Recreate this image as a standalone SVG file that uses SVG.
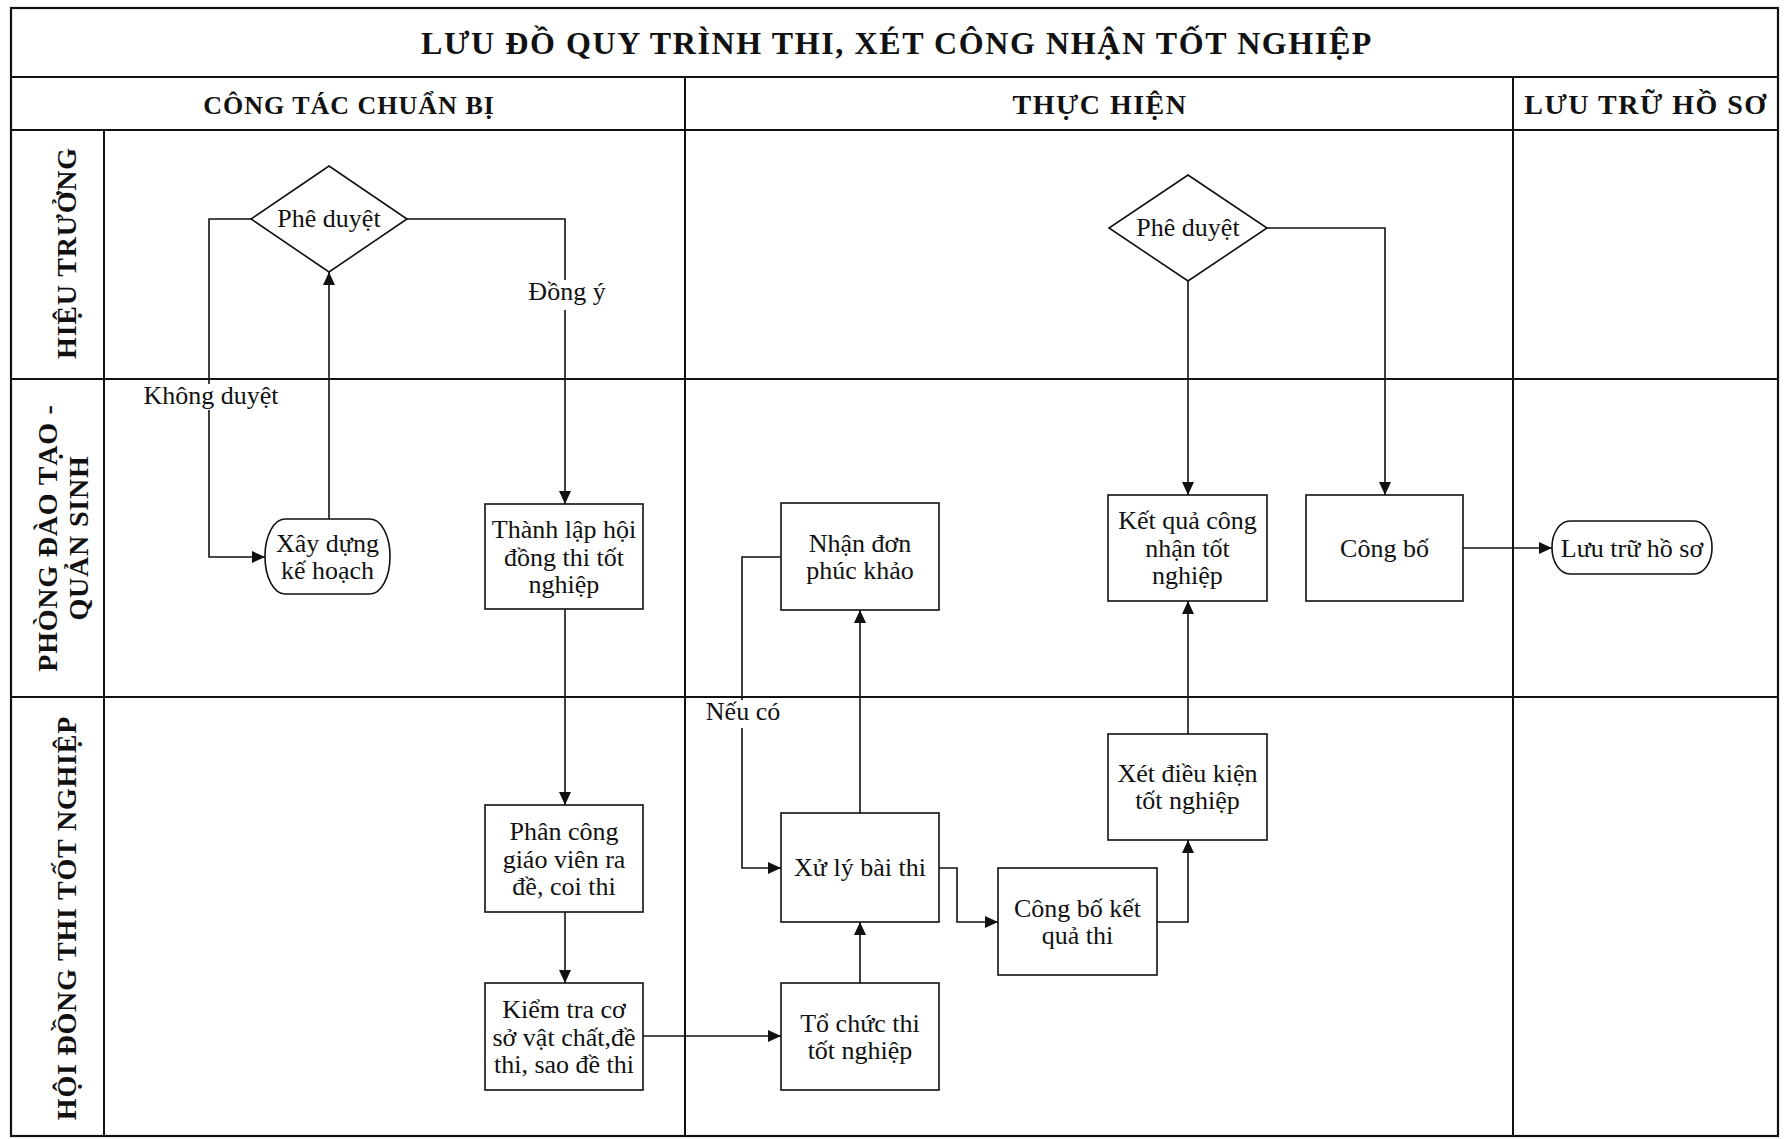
<svg xmlns="http://www.w3.org/2000/svg" width="1784" height="1139" viewBox="0 0 1784 1139">
<style>
.frame{fill:none;stroke:#111;stroke-width:2.2}
.grid{stroke:#111;stroke-width:2;fill:none}
.node{fill:#fff;stroke:#111;stroke-width:1.6}
.conn{fill:none;stroke:#111;stroke-width:1.6}
.t{font-family:"Liberation Serif","Times New Roman",serif;font-size:26px;fill:#111;text-anchor:middle}
.title{font-family:"Liberation Serif","Times New Roman",serif;font-size:32px;font-weight:bold;fill:#111;text-anchor:middle;letter-spacing:1.6px}
.hdr{font-family:"Liberation Serif","Times New Roman",serif;font-size:28px;font-weight:bold;fill:#111;text-anchor:middle;letter-spacing:1.5px}
.hdr-s{font-size:26px;letter-spacing:1px}
.lane{font-family:"Liberation Serif","Times New Roman",serif;font-size:28px;font-weight:bold;fill:#111;text-anchor:middle;letter-spacing:0.8px}
.lblbg{fill:#fff}
</style>
<defs>
<marker id="arr" markerUnits="userSpaceOnUse" markerWidth="14" markerHeight="12" refX="13" refY="6" orient="auto">
<path d="M0,0 L13,6 L0,12 z" fill="#111"/>
</marker>
</defs>
<rect width="1784" height="1139" fill="#fff"/>
<g id="frame">
<rect class="frame" x="11" y="8" width="1767" height="1128"/>
<line class="grid" x1="11" y1="77" x2="1778" y2="77"/>
<line class="grid" x1="11" y1="130" x2="1778" y2="130"/>
<line class="grid" x1="11" y1="379" x2="1778" y2="379"/>
<line class="grid" x1="11" y1="697" x2="1778" y2="697"/>
<line class="grid" x1="104" y1="130" x2="104" y2="1136"/>
<line class="grid" x1="685" y1="77" x2="685" y2="1136"/>
<line class="grid" x1="1513" y1="77" x2="1513" y2="1136"/>
<text class="title" x="897" y="54">LƯU ĐỒ QUY TRÌNH THI, XÉT CÔNG NHẬN TỐT NGHIỆP</text>
<text class="hdr hdr-s" x="349" y="114">CÔNG TÁC CHUẨN BỊ</text>
<text class="hdr" x="1100" y="114">THỰC HIỆN</text>
<text class="hdr" x="1646" y="114">LƯU TRỮ HỒ SƠ</text>
<text class="lane" transform="translate(76,253) rotate(-90)">HIỆU TRƯỞNG</text>
<text class="lane" transform="translate(57,538) rotate(-90)">PHÒNG ĐÀO TẠO -</text>
<text class="lane" transform="translate(88,538) rotate(-90)">QUẢN SINH</text>
<text class="lane" transform="translate(76,918) rotate(-90)">HỘI ĐỒNG THI TỐT NGHIỆP</text>
</g>
<g id="connectors">
<path class="conn" d="M329,519 L329,272" marker-end="url(#arr)"/>
<path class="conn" d="M251,219 L209,219 L209,557 L265,557" marker-end="url(#arr)"/>
<path class="conn" d="M407,219 L565,219 L565,504" marker-end="url(#arr)"/>
<path class="conn" d="M565,609 L565,805" marker-end="url(#arr)"/>
<path class="conn" d="M565,912 L565,983" marker-end="url(#arr)"/>
<path class="conn" d="M643,1036 L781,1036" marker-end="url(#arr)"/>
<path class="conn" d="M860,983 L860,922" marker-end="url(#arr)"/>
<path class="conn" d="M860,813 L860,610" marker-end="url(#arr)"/>
<path class="conn" d="M781,557 L742,557 L742,868 L781,868" marker-end="url(#arr)"/>
<path class="conn" d="M939,868 L957,868 L957,922 L998,922" marker-end="url(#arr)"/>
<path class="conn" d="M1157,922 L1188,922 L1188,840" marker-end="url(#arr)"/>
<path class="conn" d="M1188,734 L1188,601" marker-end="url(#arr)"/>
<path class="conn" d="M1188,281 L1188,495" marker-end="url(#arr)"/>
<path class="conn" d="M1267,228 L1385,228 L1385,495" marker-end="url(#arr)"/>
<path class="conn" d="M1463,548 L1552,548" marker-end="url(#arr)"/>
<rect class="lblbg" x="141" y="384" width="140" height="26"/>
<text class="t" x="211" y="404">Không duyệt</text>
<rect class="lblbg" x="529" y="280" width="74" height="30"/>
<text class="t" x="567" y="300">Đồng ý</text>
<rect class="lblbg" x="705" y="700" width="76" height="28"/>
<text class="t" x="743" y="720">Nếu có</text>
</g>
<g id="n-pheduyet1">
<polygon class="node" points="329,166 407,219 329,272 251,219"/>
<text class="t" x="329" y="227">Phê duyệt</text>
</g>
<g id="n-xaydung">
<rect class="node" x="265" y="519" width="125" height="75" rx="20" ry="37"/>
<text class="t" x="327.5" y="552">Xây dựng</text>
<text class="t" x="327.5" y="579">kế hoạch</text>
</g>
<g id="n-thanhlap">
<rect class="node" x="485" y="504" width="158" height="105"/>
<text class="t" x="564" y="538">Thành lập hội</text>
<text class="t" x="564" y="565.5">đồng thi tốt</text>
<text class="t" x="564" y="593">nghiệp</text>
</g>
<g id="n-phancong">
<rect class="node" x="485" y="805" width="158" height="107"/>
<text class="t" x="564" y="840">Phân công</text>
<text class="t" x="564" y="867.5">giáo viên ra</text>
<text class="t" x="564" y="895">đề, coi thi</text>
</g>
<g id="n-kiemtra">
<rect class="node" x="485" y="983" width="158" height="107"/>
<text class="t" x="564" y="1018">Kiểm tra cơ</text>
<text class="t" x="564" y="1045.5">sở vật chất,đề</text>
<text class="t" x="564" y="1073">thi, sao đề thi</text>
</g>
<g id="n-nhandon">
<rect class="node" x="781" y="503" width="158" height="107"/>
<text class="t" x="860" y="552">Nhận đơn</text>
<text class="t" x="860" y="579">phúc khảo</text>
</g>
<g id="n-xuly">
<rect class="node" x="781" y="813" width="158" height="109"/>
<text class="t" x="860" y="876">Xử lý bài thi</text>
</g>
<g id="n-tochuc">
<rect class="node" x="781" y="983" width="158" height="107"/>
<text class="t" x="860" y="1032">Tổ chức thi</text>
<text class="t" x="860" y="1059">tốt nghiệp</text>
</g>
<g id="n-congbokq">
<rect class="node" x="998" y="868" width="159" height="107"/>
<text class="t" x="1077.5" y="917">Công bố kết</text>
<text class="t" x="1077.5" y="944">quả thi</text>
</g>
<g id="n-xet">
<rect class="node" x="1108" y="734" width="159" height="106"/>
<text class="t" x="1187.5" y="782">Xét điều kiện</text>
<text class="t" x="1187.5" y="809">tốt nghiệp</text>
</g>
<g id="n-ketqua">
<rect class="node" x="1108" y="495" width="159" height="106"/>
<text class="t" x="1187.5" y="529">Kết quả công</text>
<text class="t" x="1187.5" y="556.5">nhận tốt</text>
<text class="t" x="1187.5" y="584">nghiệp</text>
</g>
<g id="n-pheduyet2">
<polygon class="node" points="1188,175 1267,228 1188,281 1109,228"/>
<text class="t" x="1188" y="236">Phê duyệt</text>
</g>
<g id="n-congbo">
<rect class="node" x="1306" y="495" width="157" height="106"/>
<text class="t" x="1384.5" y="557">Công bố</text>
</g>
<g id="n-luutru">
<rect class="node" x="1552" y="521" width="160" height="53" rx="18" ry="26"/>
<text class="t" x="1632" y="556.5">Lưu trữ hồ sơ</text>
</g>
</svg>
